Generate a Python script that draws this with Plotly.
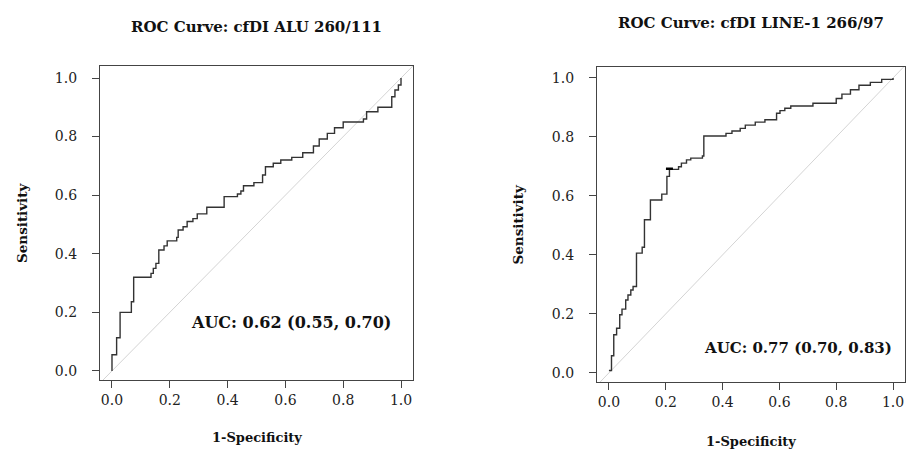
import plotly.graph_objects as go

# ---- data ----
alu_fpr = [0.0, 0.0, 0.016, 0.028, 0.067, 0.075, 0.135, 0.143, 0.152, 0.162, 0.18, 0.191,
           0.224, 0.229, 0.246, 0.26, 0.28, 0.295, 0.328, 0.388, 0.434, 0.446, 0.455,
           0.491, 0.521, 0.531, 0.558, 0.584, 0.622, 0.66, 0.697, 0.717, 0.745,
           0.77, 0.8, 0.87, 0.881, 0.92, 0.968, 0.968, 0.979, 0.991, 1.0]
alu_tpr = [0.0, 0.055, 0.113, 0.2, 0.236, 0.32, 0.333, 0.35, 0.367, 0.413, 0.427, 0.444,
           0.456, 0.481, 0.492, 0.51, 0.52, 0.536, 0.559, 0.595, 0.604, 0.614, 0.632,
           0.643, 0.669, 0.697, 0.709, 0.72, 0.729, 0.745, 0.768, 0.792, 0.811,
           0.83, 0.85, 0.86, 0.885, 0.9, 0.919, 0.936, 0.959, 0.976, 1.0]

line_fpr = [0.0, 0.009, 0.017, 0.027, 0.038, 0.046, 0.059, 0.067, 0.077, 0.085, 0.097,
            0.117, 0.125, 0.146, 0.186, 0.204, 0.213, 0.245, 0.255, 0.273, 0.288, 0.329,
            0.334, 0.412, 0.433, 0.462, 0.48, 0.515, 0.549, 0.59, 0.602, 0.619, 0.64,
            0.718, 0.8, 0.82, 0.85, 0.88, 0.92, 0.96, 1.0]
line_tpr = [0.008, 0.058, 0.129, 0.151, 0.197, 0.216, 0.247, 0.264, 0.281, 0.293, 0.406,
            0.426, 0.519, 0.586, 0.606, 0.666, 0.69, 0.699, 0.711, 0.722, 0.728, 0.735,
            0.803, 0.812, 0.82, 0.829, 0.84, 0.85, 0.858, 0.88, 0.889, 0.897, 0.905,
            0.914, 0.93, 0.945, 0.96, 0.975, 0.985, 0.995, 1.0]

# small marked point on the LINE-1 curve
line_mark_fpr = [0.213]
line_mark_tpr = [0.692]

titles = ["ROC Curve: cfDI ALU 260/111", "ROC Curve: cfDI LINE-1 266/97"]
auc_labels = ["AUC: 0.62 (0.55, 0.70)", "AUC: 0.77 (0.70, 0.83)"]
tick_vals = [0.0, 0.2, 0.4, 0.6, 0.8, 1.0]
tick_text = ["0.0", "0.2", "0.4", "0.6", "0.8", "1.0"]
diag = [-0.1, 1.1]

W, H = 908, 453
FONT = "DejaVu Serif"

fig = go.Figure()

for i, (fx, ty) in enumerate([(alu_fpr, alu_tpr), (line_fpr, line_tpr)]):
    xa = "x" if i == 0 else "x2"
    ya = "y" if i == 0 else "y2"
    fig.add_trace(go.Scatter(x=diag, y=diag, mode="lines", xaxis=xa, yaxis=ya,
                             line=dict(color="#d4d4d4", width=1), hoverinfo="skip",
                             showlegend=False))
    fig.add_trace(go.Scatter(x=fx, y=ty, mode="lines", xaxis=xa, yaxis=ya,
                             line=dict(color="#333333", width=1.4, shape="hv"),
                             showlegend=False))

fig.add_trace(go.Scatter(x=line_mark_fpr, y=line_mark_tpr, mode="markers", xaxis="x2", yaxis="y2",
                         marker=dict(symbol="line-ew", size=5, line=dict(color="#000000", width=2.5)),
                         showlegend=False))

# plot boxes in pixels: (left, right, top, bottom)
boxes = [(100, 413, 66, 380), (597, 905, 67, 382)]
xranges = [[-0.0415, 1.0415], [-0.042, 1.042]]
yranges = [[-0.031, 1.041], [-0.031, 1.037]]
title_y = [27, 23]
xtitle_y = [437, 441]
ytitle_x = [22, 517]
auc_pos = [(0.62, 0.167), (0.664, 0.085)]
auc_size = [16, 15]

axis_common = dict(showgrid=False, zeroline=False, showline=True, mirror=True,
                   linecolor="#444444", linewidth=1.3, ticks="outside", ticklen=7,
                   tickwidth=1.2, tickcolor="#444444", tickvals=tick_vals,
                   ticktext=tick_text, tickfont=dict(family=FONT, size=14, color="#222222"))

for i, (l, r, t, b) in enumerate(boxes):
    sfx = "" if i == 0 else "2"
    fig.layout["xaxis" + sfx] = dict(axis_common, domain=[l / W, r / W], range=xranges[i],
                                     anchor="y" + sfx, ticklabelstandoff=0)
    fig.layout["yaxis" + sfx] = dict(axis_common, domain=[1 - b / H, 1 - t / H], range=yranges[i],
                                     anchor="x" + sfx, ticklabelstandoff=12)
    cx = (l + r) / 2 / W
    fig.add_annotation(text="<b>" + titles[i] + "</b>", x=cx, y=1 - title_y[i] / H,
                       xref="paper", yref="paper", showarrow=False,
                       xanchor="center", yanchor="middle",
                       font=dict(family=FONT, size=15, color="#111111"))
    fig.add_annotation(text="<b>1-Specificity</b>", x=cx, y=1 - xtitle_y[i] / H,
                       xref="paper", yref="paper", showarrow=False,
                       xanchor="center", yanchor="middle",
                       font=dict(family=FONT, size=13, color="#111111"))
    fig.add_annotation(text="<b>Sensitivity</b>", x=ytitle_x[i] / W,
                       y=1 - ((t + b) / 2) / H, textangle=-90,
                       xanchor="center", yanchor="middle",
                       xref="paper", yref="paper", showarrow=False,
                       font=dict(family=FONT, size=13.5, color="#111111"))
    fig.add_annotation(text="<b>" + auc_labels[i] + "</b>", x=auc_pos[i][0], y=auc_pos[i][1],
                       xref="x" + sfx, yref="y" + sfx, showarrow=False,
                       xanchor="center", yanchor="middle",
                       font=dict(family=FONT, size=auc_size[i], color="#111111"))

fig.update_layout(width=W, height=H, margin=dict(l=0, r=0, t=0, b=0),
                  paper_bgcolor="white", plot_bgcolor="white")

fig.write_html("out.html", config={"displayModeBar": False},
               post_script="document.body.style.margin='0';document.body.style.overflow='hidden';")
